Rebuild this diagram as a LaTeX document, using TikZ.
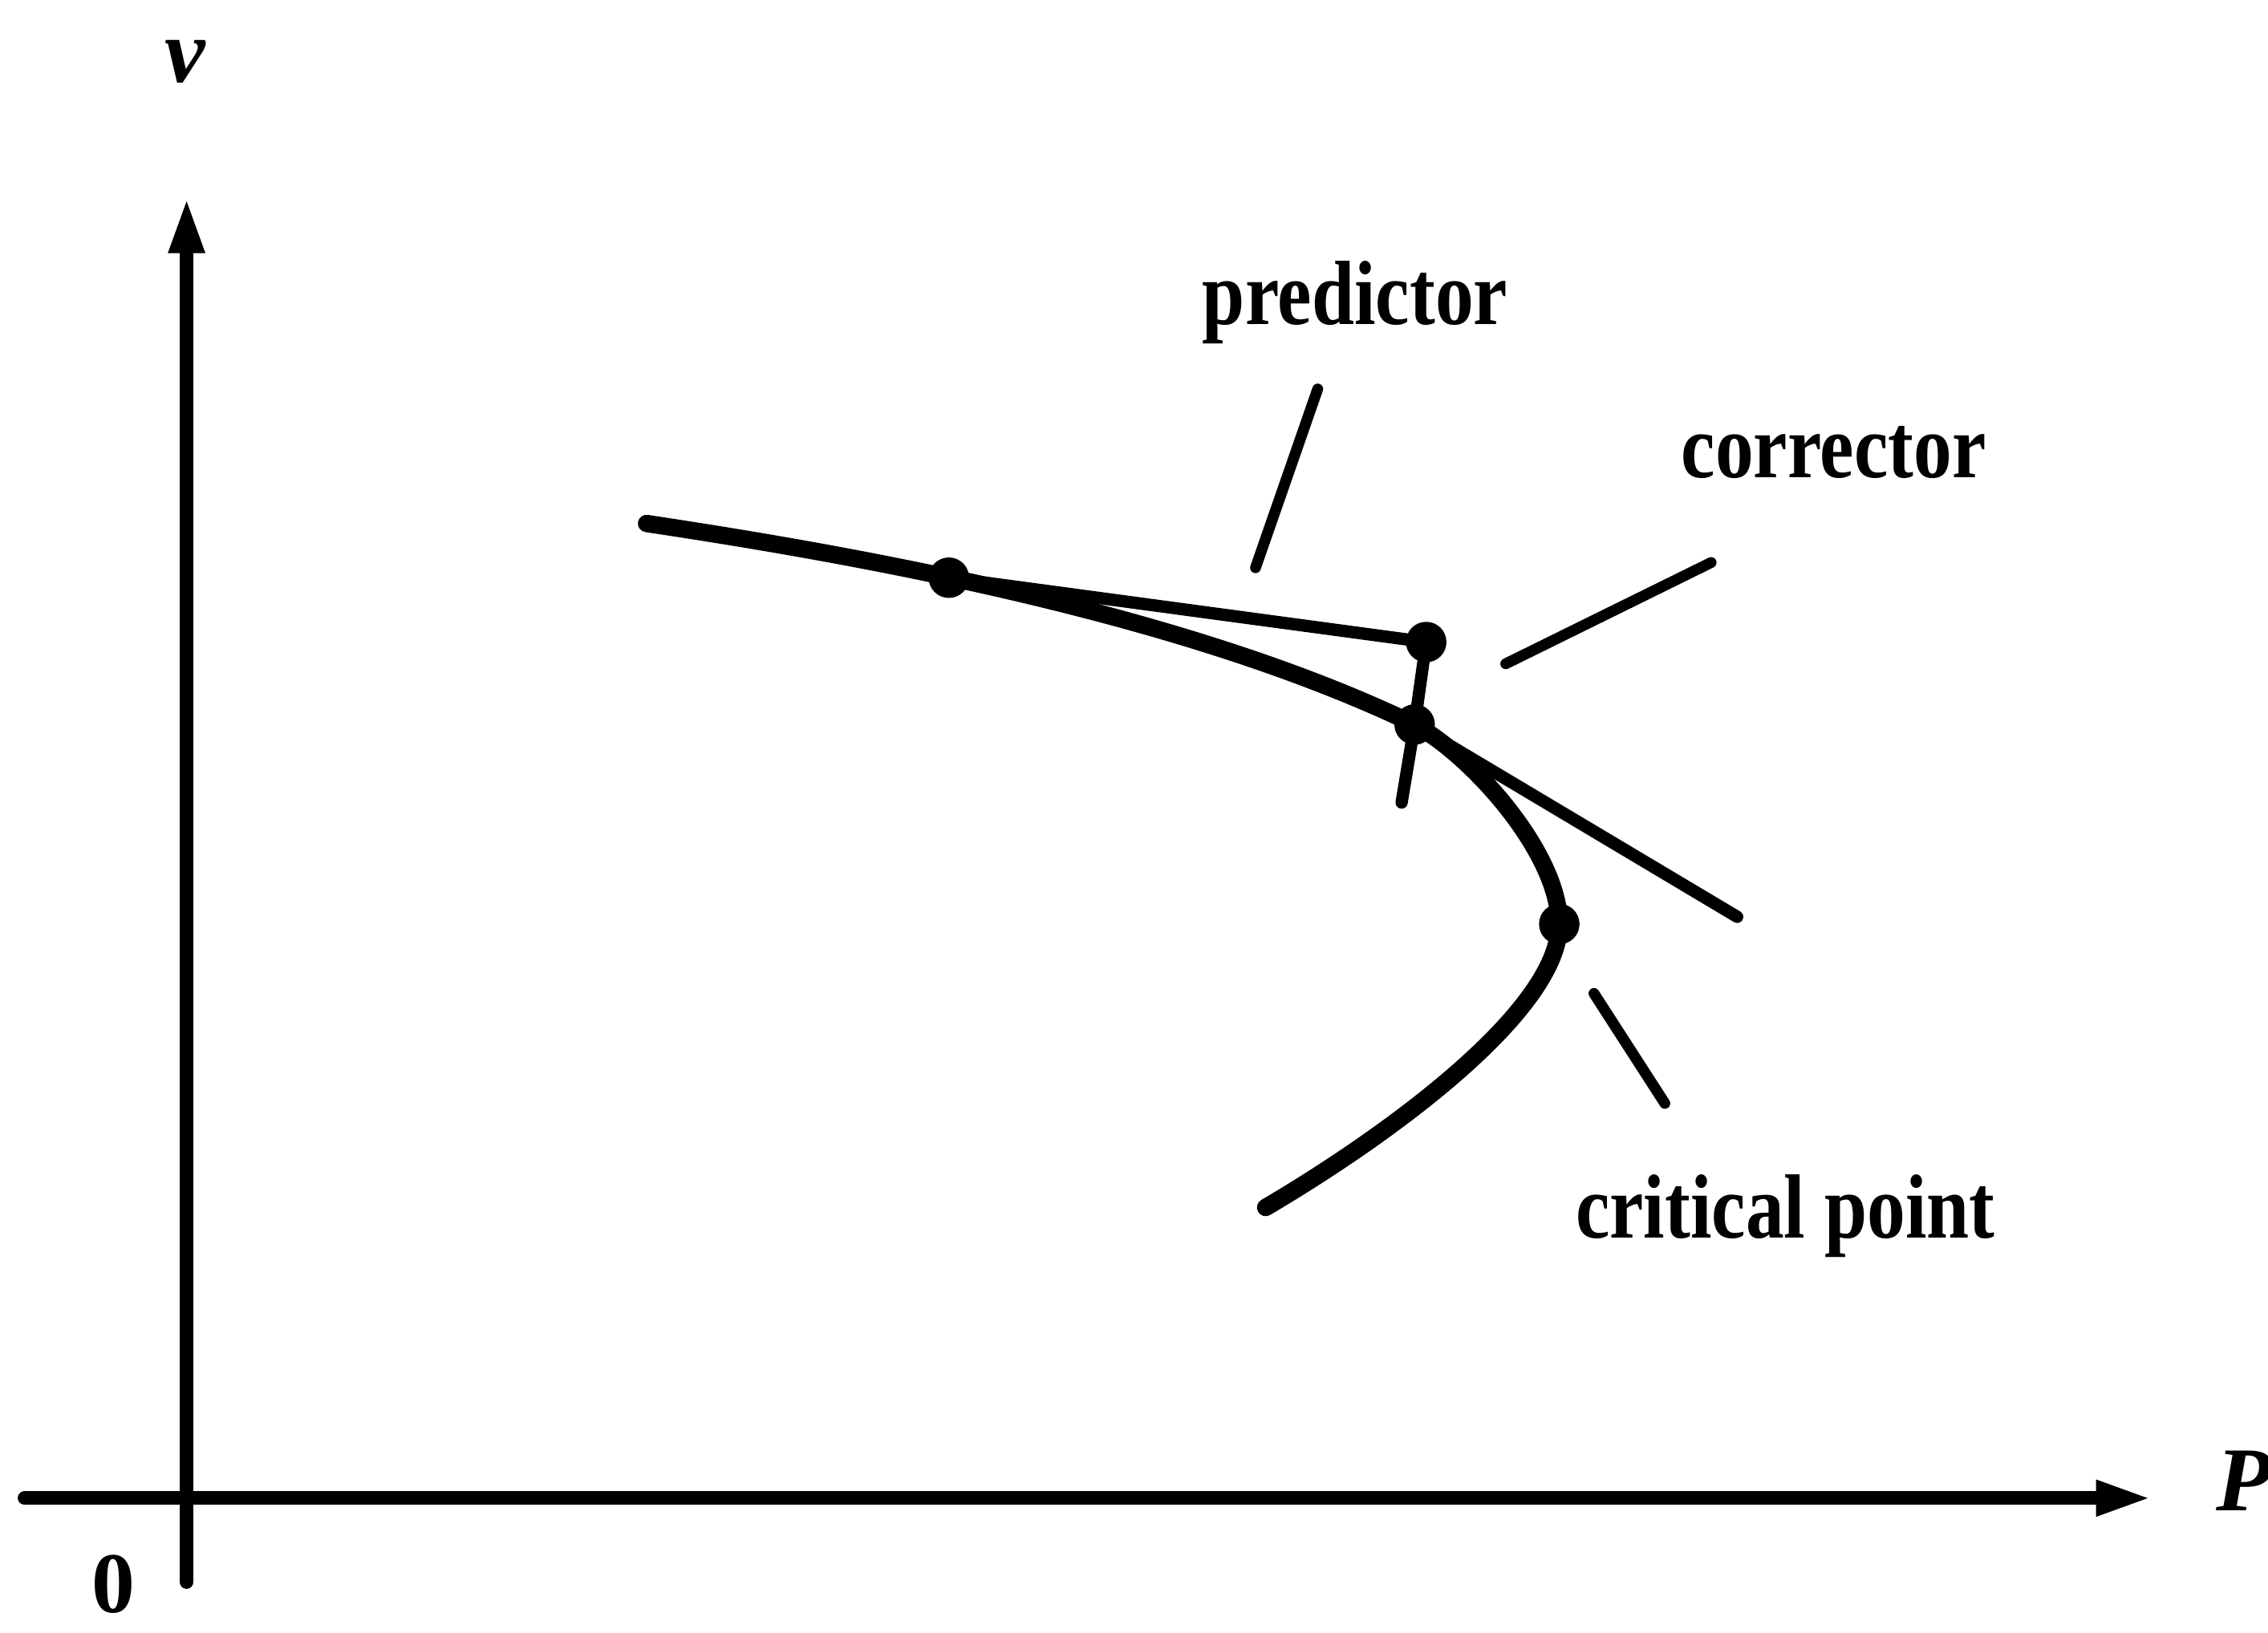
\documentclass[tikz,border=0pt]{standalone}
\usepackage{fontspec}
\setmainfont{Liberation Serif}
\newfontfamily\lblfont{Liberation Serif}[FakeStretch=0.84]
\usetikzlibrary{arrows.meta}
\begin{document}
\begin{tikzpicture}[x=0.02cm, y=-0.02cm,
  axisline/.style={line width=0.19cm, line cap=round, -{Triangle[length=0.78cm, width=0.45cm]}},
  curveline/.style={line width=0.24cm, line cap=round, line join=round},
  thinline/.style={line width=0.17cm, line cap=round},
  leader/.style={line width=0.15cm, line cap=round},
  dot/.style={circle, fill=black, inner sep=0pt, minimum size=0.56cm},
  lbl/.style={inner sep=0pt, font=\lblfont\bfseries\fontsize{35.9}{40}\selectfont},
  axlbl/.style={inner sep=0pt, font=\bfseries\itshape\fontsize{35.9}{40}\selectfont},
  zerolbl/.style={inner sep=0pt, font=\bfseries\fontsize{34}{38}\selectfont}
]
\useasboundingbox (0,0) rectangle (1568,1129);

% axes
\coordinate (ybot) at (129,1094);
\coordinate (ytip) at (129,136);
\coordinate (xleft) at (17,1036);
\coordinate (xtip) at (1488,1036);
\draw[axisline] (ybot) -- (ytip);
\draw[axisline] (xleft) -- (xtip);

\node[axlbl, anchor=base] (vlab) at (128,56.6) {v};
\node[axlbl, anchor=base west] (plab) at (1532,1044.4) {P};
\node[zerolbl, anchor=base] (zlab) at (78.5,1115) {0};

% points
\coordinate (cstart) at (447,362);
\coordinate (p1) at (656,399.5);
\coordinate (p2) at (986,444);
\coordinate (p3) at (978,501);
\coordinate (p3b) at (969,555);
\coordinate (p4) at (1078,639);
\coordinate (cend) at (875,835);
\coordinate (tanend) at (1201,634);

% solution curve
\draw[curveline] (cstart) .. controls (600,385) and (820,425) .. (p3)
  .. controls (1018,523) and (1078,590) .. (p4)
  .. controls (1078,699) and (960,785) .. (cend);

\draw[thinline] (p1) -- (p2);
\draw[thinline] (p2) -- (p3) -- (p3b);
\draw[thinline] (p3) -- (tanend);

\node[dot] (d1) at (p1) {};
\node[dot] (d2) at (p2) {};
\node[dot] (d3) at (p3) {};
\node[dot] (d4) at (p4) {};

% labels
\node[lbl, anchor=base west] (tpred) at (831,224.4) {predictor};
\node[lbl, anchor=base west] (tcorr) at (1162,330.5) {corrector};
\node[lbl, anchor=base west] (tcrit) at (1089,856) {critical point};

% leaders
\coordinate (lp1) at (911,269);
\coordinate (lp2) at (868,392.6);
\coordinate (lc1) at (1183,389);
\coordinate (lc2) at (1041,459);
\coordinate (lk1) at (1102,687);
\coordinate (lk2) at (1151,763);
\draw[leader] (lp1) -- (lp2);
\draw[leader] (lc1) -- (lc2);
\draw[leader] (lk1) -- (lk2);
\end{tikzpicture}
\end{document}
